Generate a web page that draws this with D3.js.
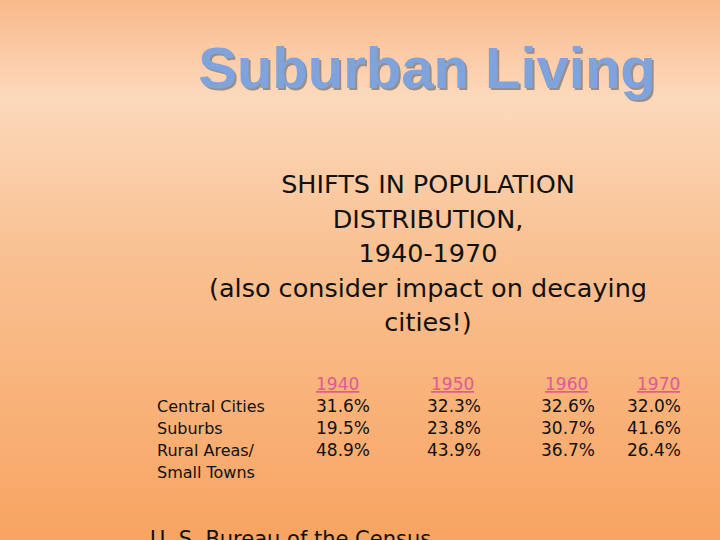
<!DOCTYPE html>
<html><head><meta charset="utf-8">
<script src="https://cdn.jsdelivr.net/npm/d3@7"></script>
<style>body{margin:0;overflow:hidden}</style>
</head><body>
<script>
var years = ["1940", "1950", "1960", "1970"]
var rowLabels = ["Central Cities", "Suburbs", "Rural Areas/", "Small Towns"]
var centralCities = [31.6, 32.3, 32.6, 32.0]
var suburbs = [19.5, 23.8, 30.7, 41.6]
var ruralAreas = [48.9, 43.9, 36.7, 26.4]
var subtitleLines = ["SHIFTS IN POPULATION", "DISTRIBUTION,", "1940-1970", "(also consider impact on decaying", "cities!)"]

var width = 720, height = 540
var svg = d3.select("body").append("svg").attr("width", width).attr("height", height)

var defs = svg.append("defs")
var grad = defs.append("linearGradient").attr("id", "bg").attr("x1", 0).attr("y1", 0).attr("x2", 0).attr("y2", 1)
grad.append("stop").attr("offset", "0%").attr("stop-color", "#f9b98a")
grad.append("stop").attr("offset", "18%").attr("stop-color", "#fcd9bc")
grad.append("stop").attr("offset", "45%").attr("stop-color", "#f9c294")
grad.append("stop").attr("offset", "100%").attr("stop-color", "#f8a462")
svg.append("rect").attr("width", width).attr("height", height).attr("fill", "url(#bg)")

// title with shadow
var title = "Suburban Living"
svg.append("text").attr("x", 429).attr("y", 90).attr("text-anchor", "middle")
  .attr("font-family", "Liberation Sans").attr("font-weight", "bold").attr("font-size", 58)
  .attr("fill", "#9a8f88").text(title)
svg.append("text").attr("x", 427).attr("y", 88).attr("text-anchor", "middle")
  .attr("font-family", "Liberation Sans").attr("font-weight", "bold").attr("font-size", 58)
  .attr("fill", "#7fa3dc").text(title)

var font = "DejaVu Sans"
svg.append("g").selectAll("text").data(subtitleLines).enter().append("text")
  .attr("x", 428).attr("y", function (d, i) { return 193 + i * 34.5 })
  .attr("text-anchor", "middle").attr("font-family", font).attr("font-size", 25.5)
  .attr("fill", "#111").text(function (d) { return d })

// table
var colX = d3.scaleOrdinal().domain(years).range([316, 427, 541, 627])
var rowY = d3.scalePoint().domain(d3.range(4)).range([412, 478])

svg.append("g").selectAll("text").data(rowLabels).enter().append("text")
  .attr("x", 157).attr("y", function (d, i) { return rowY(i) })
  .attr("font-family", font).attr("font-size", 16).attr("fill", "#111").text(function (d) { return d })

var hdr = svg.append("g").selectAll("g").data(years).enter().append("g")
hdr.append("text")
  .attr("x", function (d, i) { return colX(d) + (i ? 4 : 0) + (i == 3 ? 6 : 0) }).attr("y", 390)
  .attr("font-family", font).attr("font-size", 17).attr("fill", "#e05a94")
  .attr("text-decoration", "underline").text(function (d) { return d })

var series = [centralCities, suburbs, ruralAreas]
series.forEach(function (vals, r) {
  svg.append("g").selectAll("text").data(vals).enter().append("text")
    .attr("x", function (d, i) { return colX(years[i]) }).attr("y", rowY(r))
    .attr("font-family", font).attr("font-size", 17).attr("fill", "#111")
    .text(function (d) { return d.toFixed(1) + "%" })
})

svg.append("text").attr("x", 150).attr("y", 546).attr("font-family", font)
  .attr("font-size", 21).attr("fill", "#111").text("U. S. Bureau of the Census")
</script>
</body></html>
